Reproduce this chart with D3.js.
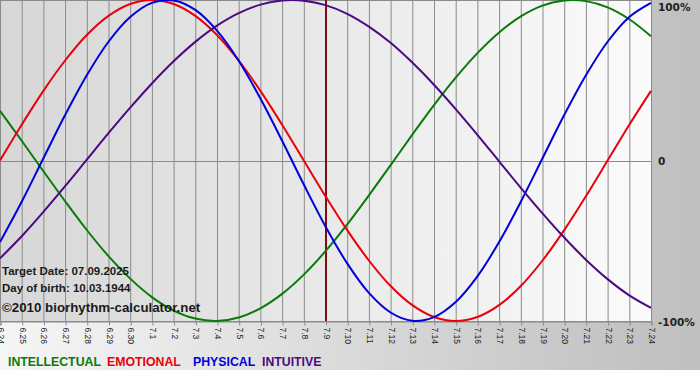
<!DOCTYPE html>
<html>
<head>
<meta charset="utf-8">
<script src="https://cdn.jsdelivr.net/npm/d3@7"></script>
<style>
  body { margin: 0; background: #fff; }
  svg { display: block; }
</style>
</head>
<body>
<div id="chart"></div>
<script>
// day labels (month.day), 24 June .. 24 July
var days = ["6.24","6.25","6.26","6.27","6.28","6.29","6.30",
            "7.1","7.2","7.3","7.4","7.5","7.6","7.7","7.8","7.9","7.10",
            "7.11","7.12","7.13","7.14","7.15","7.16","7.17","7.18","7.19","7.20",
            "7.21","7.22","7.23","7.24"]

// cycle values per day (-1 .. 1)
var intellectual = [0.309,0.123,-0.067,-0.254,-0.433,-0.596,-0.736,-0.851,-0.935,-0.985,-1.000,
                    -0.978,-0.921,-0.831,-0.711,-0.565,-0.398,-0.217,-0.029,0.161,0.345,
                    0.516,0.669,0.798,0.898,0.965,0.997,0.993,0.954,0.880,0.774]
var emotional = [0,0.223,0.434,0.623,0.782,0.901,0.975,1,0.975,0.901,0.782,
                 0.623,0.434,0.223,0,-0.223,-0.434,-0.623,-0.782,-0.901,-0.975,
                 -1,-0.975,-0.901,-0.782,-0.623,-0.434,-0.223,0,0.223,0.434]
var physical = [-0.508,-0.257,0.014,0.283,0.531,0.740,0.894,0.982,0.997,0.938,0.809,
                0.621,0.386,0.123,-0.150,-0.411,-0.641,-0.825,-0.947,-0.999,-0.976,
                -0.882,-0.722,-0.508,-0.257,0.014,0.283,0.531,0.740,0.894,0.982]
var intuitive = [-0.610,-0.472,-0.320,-0.160,0.005,0.170,0.329,0.480,0.618,0.739,0.840,
                 0.918,0.971,0.997,0.996,0.968,0.914,0.834,0.733,0.610,0.472,
                 0.320,0.160,-0.005,-0.170,-0.329,-0.480,-0.618,-0.739,-0.840,-0.918]

var yTicks = [1, 0, -1]
var yTickLabels = ["100%", "0", "-100%"]
var targetDay = "7.9"
var infoLines = ["Target Date: 07.09.2025", "Day of birth: 10.03.1944", "\u00a92010 biorhythm-calculator.net"]

var series = [
  {name: "INTELLECTUAL", values: intellectual, color: "#0a7a0a"},
  {name: "EMOTIONAL", values: emotional, color: "#e8000b"},
  {name: "PHYSICAL", values: physical, color: "#0000dd"},
  {name: "INTUITIVE", values: intuitive, color: "#4b0a82"}
]

var width = 700,
    height = 380,
    plotW = 651,
    plotTop = 0,
    plotBottom = 321

var svg = d3.select("#chart")
            .append("svg")
            .attr("width", width)
            .attr("height", height)

var defs = svg.append("defs")
var bgGrad = defs.append("linearGradient").attr("id", "bgGrad")
bgGrad.append("stop").attr("offset", "0%").attr("stop-color", "#f6f6f6")
bgGrad.append("stop").attr("offset", "92%").attr("stop-color", "#c2c2c2")
bgGrad.append("stop").attr("offset", "100%").attr("stop-color", "#c0c0c0")

var plotGrad = defs.append("linearGradient").attr("id", "plotGrad")
plotGrad.append("stop").attr("offset", "0%").attr("stop-color", "#d7d7d7")
plotGrad.append("stop").attr("offset", "100%").attr("stop-color", "#fbfbfb")

svg.append("rect")
   .attr("width", width)
   .attr("height", 370)
   .attr("fill", "url(#bgGrad)")

var x = d3.scalePoint()
          .domain(days)
          .range([0, plotW])

var y = d3.scaleLinear()
          .domain([-1, 1])
          .range([plotBottom, plotTop])

svg.append("rect")
   .attr("x", 0)
   .attr("y", plotTop)
   .attr("width", plotW)
   .attr("height", plotBottom - plotTop)
   .attr("fill", "url(#plotGrad)")

// vertical grid, one per day
svg.append("g")
   .selectAll("line")
   .data(days)
   .enter().append("line")
   .attr("x1", d => x(d) + 0.5)
   .attr("x2", d => x(d) + 0.5)
   .attr("y1", plotTop)
   .attr("y2", plotBottom)
   .attr("stroke", "#8a8a8a")
   .attr("stroke-width", 1)

// horizontal grid at 100%, 0, -100%
svg.append("g")
   .selectAll("line")
   .data(yTicks)
   .enter().append("line")
   .attr("x1", 0)
   .attr("x2", plotW)
   .attr("y1", d => Math.round(y(d)) + 0.5)
   .attr("y2", d => Math.round(y(d)) + 0.5)
   .attr("stroke", "#8a8a8a")
   .attr("stroke-width", 1)

// bottom axis with rotated day labels
var xAxis = svg.append("g")
   .attr("transform", "translate(0.5," + (plotBottom + 0.5) + ")")
   .call(d3.axisBottom(x).tickSize(4).tickPadding(3))

xAxis.select(".domain").attr("stroke", "#8a8a8a")
xAxis.selectAll(".tick line").attr("stroke", "#8a8a8a")
xAxis.selectAll("text")
     .attr("font-family", "Liberation Sans, Arial, sans-serif")
     .attr("font-size", "8.5px")
     .attr("fill", "#222")
     .attr("transform", "rotate(90)")
     .attr("text-anchor", "start")
     .attr("x", 6)
     .attr("y", 0)
     .attr("dy", "0.35em")

// right labels
svg.append("g")
   .selectAll("text")
   .data(yTicks)
   .enter().append("text")
   .attr("x", 658)
   .attr("y", d => Math.max(y(d) + 1, 7))
   .attr("dy", "0.36em")
   .attr("font-family", "DejaVu Sans, Verdana, sans-serif")
   .attr("font-weight", "bold")
   .attr("font-size", "10.5px")
   .attr("fill", "#222")
   .text((d, i) => yTickLabels[i])

// target day marker
svg.append("line")
   .attr("x1", x(targetDay) + 0.5)
   .attr("x2", x(targetDay) + 0.5)
   .attr("y1", plotTop)
   .attr("y2", plotBottom)
   .attr("stroke", "#7a1010")
   .attr("stroke-width", 2)

var line = d3.line()
             .x((d, i) => x(days[i]))
             .y(d => y(d))
             .curve(d3.curveCatmullRom)

svg.append("g")
   .selectAll("path")
   .data(series)
   .enter().append("path")
   .attr("d", d => line(d.values))
   .attr("fill", "none")
   .attr("stroke", d => d.color)
   .attr("stroke-width", 2)

// info text
svg.append("g")
   .selectAll("text")
   .data(infoLines)
   .enter().append("text")
   .attr("x", 2)
   .attr("y", (d, i) => [275, 292, 312][i])
   .attr("font-family", "Liberation Sans, Arial, sans-serif")
   .attr("font-weight", "bold")
   .attr("font-size", (d, i) => i == 2 ? "13.3px" : "11.5px")
   .attr("fill", "#1a1a1a")
   .text(d => d)

// legend
var legendX = [8, 107, 193, 262]
series.forEach(function(s, i) {
  svg.append("text")
     .attr("x", legendX[i])
     .attr("y", 366)
     .attr("font-family", "Liberation Sans, Arial, sans-serif")
     .attr("font-size", "12.3px")
     .attr("font-weight", "bold")
     .attr("fill", s.color)
     .text(s.name)
})
</script>
</body>
</html>
